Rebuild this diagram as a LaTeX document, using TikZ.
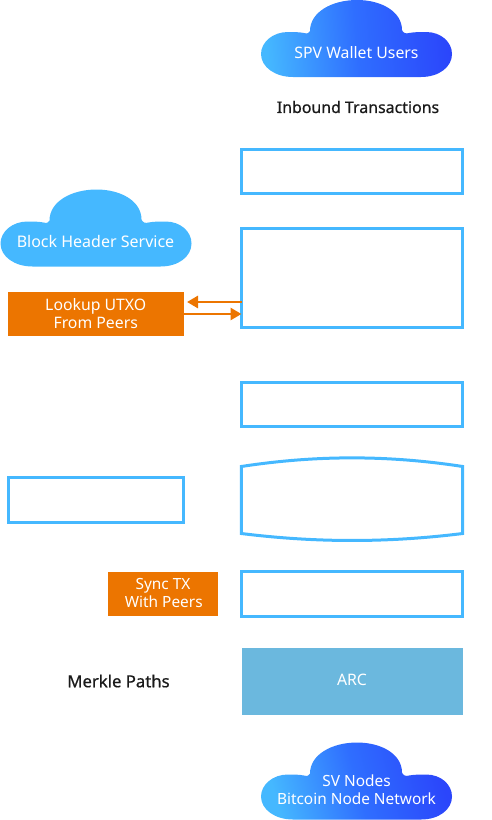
\documentclass[tikz,border=0pt]{standalone}
\usepackage{fontspec}
\setmainfont{Noto Sans}
\definecolor{skyb}{HTML}{45B8FF}
\definecolor{midb}{HTML}{2F6EFF}
\definecolor{deepb}{HTML}{2B46FB}
\definecolor{orng}{HTML}{EC7500}
\definecolor{arcb}{HTML}{6BB8DE}
\definecolor{inkk}{HTML}{1A1A1A}
\newcommand{\cloudoutline}{(49,31) .. controls (49,12) and (71,0) .. (96,0)
  .. controls (121,0) and (141,12) .. (141,30)
  .. controls (142,33) and (145,34) .. (148,33)
  .. controls (153,32) and (160,32) .. (165,32)
  .. controls (180,32) and (191,42) .. (191,54)
  .. controls (191,67) and (178,77) .. (160,77)
  -- (32,77)
  .. controls (14,77) and (0,67) .. (0,54)
  .. controls (0,42) and (12,32) .. (27,32)
  .. controls (32,32) and (38,32) .. (43,33)
  .. controls (46,34) and (49,33) .. (49,31) -- cycle}
\tikzset{
  x=1pt,y=-1pt,
  lbl/.style={font=\fontsize{15.8}{18}\selectfont,text=white,align=center,inner sep=0pt},
  dark/.style={font=\fontsize{15.9}{18}\selectfont,text=inkk,inner sep=0pt},
  bluebox/.style={draw=skyb,line width=3pt,fill=white,inner sep=0pt,outer sep=0pt},
  orangebox/.style={fill=orng,minimum height=44pt,outer sep=0pt},
  arcbox/.style={fill=arcb,lbl,minimum width=221pt,minimum height=67pt,outer sep=0pt},
  flow/.style={draw=orng,line width=2.7pt,-{Triangle[length=11pt,width=12pt]}},
  gradcloud/.style={left color=skyb,right color=deepb,middle color=midb}
}
\usetikzlibrary{arrows.meta}
\begin{document}
\begin{tikzpicture}
\useasboundingbox (0,0) rectangle (492,820);
% clouds
\shade[shift={(261,0)},gradcloud,shading angle=95] \cloudoutline;
\node[lbl] (users) at (356.5,53) {SPV Wallet Users};
\fill[shift={(0.5,189.5)},skyb] \cloudoutline;
\node[lbl,font=\fontsize{16}{18}\selectfont] (headers) at (95.5,241) {Block Header Service};
\shade[shift={(261,742.5)},gradcloud,shading angle=105] \cloudoutline;
\node[lbl,font=\fontsize{15.4}{18}\selectfont] (nodes) at (356.5,789.5) {SV Nodes\\Bitcoin Node Network};
% labels
\node[dark] (inbound) at (358,107) {\addfontfeature{FakeBold=0.6}Inbound Transactions};
\node[dark,font=\fontsize{16.7}{18}\selectfont] (merkle) at (118.5,681) {\addfontfeature{FakeBold=0.6}Merkle Paths};
% right column
\node[bluebox,minimum width=221pt,minimum height=44.5pt] (b1) at (352,171.5) {};
\node[bluebox,minimum width=221pt,minimum height=99pt] (b2) at (352,277.5) {};
\node[bluebox,minimum width=221pt,minimum height=44.5pt] (b3) at (352,404.5) {};
\node[inner sep=0pt,minimum width=221pt,minimum height=83pt] (b4) at (352,499.5) {};
\draw[draw=skyb,line width=3pt,line join=miter]
  (b4.south west |- 0,466.5) .. controls (316,455) and (388,455) .. (b4.south east |- 0,466.5)
  -- (b4.south east |- 0,533.5) .. controls (388,542.8) and (316,542.8) .. (b4.south west |- 0,533.5) -- cycle;
\node[bluebox,minimum width=221pt,minimum height=45pt] (b5) at (352,594) {};
\node[arcbox] (arc) at (352.5,681.5) {\raisebox{3pt}{\hspace{-1pt}ARC}};
% left column
\node[orangebox,lbl,minimum width=175.5pt] (lookup) at (95.75,314) {Lookup UTXO\\From Peers};
\node[bluebox,minimum width=175pt,minimum height=45pt] (b6) at (95.5,499.5) {};
\node[orangebox,lbl,minimum width=110pt,font=\fontsize{15.4}{18}\selectfont] (sync) at (163,593.5) {\raisebox{1pt}{Sync TX}\\\raisebox{1pt}{\hspace{1.5pt}With Peers}};
% connectors
\coordinate (upstart) at (b2.west |- 0,302);
\coordinate (upend) at (187,302);
\draw[flow] (upstart) -- (upend);
\draw[flow] (lookup.east) -- (lookup.east -| b2.west);
\end{tikzpicture}
\end{document}
